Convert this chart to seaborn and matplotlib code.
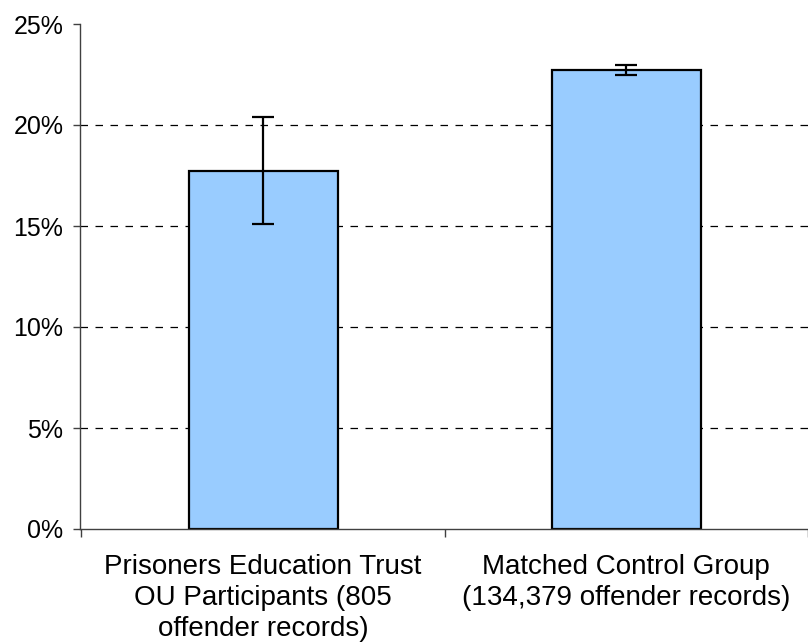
import matplotlib
matplotlib.use("Agg")
import matplotlib.pyplot as plt
import seaborn as sns
import pandas as pd

# Data
categories = ["Prisoners Education Trust\nOU Participants (805\noffender records)",
              "Matched Control Group\n(134,379 offender records)"]
rates = [17.74, 22.72]
err = [2.65, 0.25]
y_ticks = [0, 5, 10, 15, 20, 25]

sns.set_style("white")
plt.rcParams['font.family'] = ['Liberation Sans', 'DejaVu Sans']

df = pd.DataFrame({"group": categories, "rate": rates})

fig = plt.figure(figsize=(8.08, 6.44), dpi=100)
ax = fig.add_axes([80 / 808, 115 / 644, 728 / 808, 505 / 644])

sns.barplot(data=df, x="group", y="rate", ax=ax, color="#99CCFF",
            width=0.41, edgecolor="black", linewidth=1.6, saturation=1)
ax.errorbar(range(len(rates)), rates, yerr=err, fmt="none", ecolor="black",
            elinewidth=1.6, capsize=8, capthick=1.6, zorder=5)

for y in y_ticks[1:-1]:
    ax.axhline(y, color="black", linestyle=(0, (6, 6)), linewidth=0.9, zorder=0)

ax.set_ylim(0, 25)
x0 = -0.5 - 1.5 / 367
ax.set_xlim(x0, x0 + 728 / 367)
ax.set_yticks(y_ticks)
ax.set_yticklabels([f"{v}%" for v in y_ticks], fontsize=18, color="black")

ax.set_xticks([-0.5, 0.5, 1.5])
ax.set_xticklabels([])
ax.set_xticks([0, 1], minor=True)
ax.set_xticklabels(categories, minor=True, fontsize=20, linespacing=1.26, color="black")
ax.tick_params(axis="x", which="minor", bottom=False, length=0, pad=18)
ax.tick_params(axis="x", which="major", bottom=True, length=6, width=1,
               color="#404040", direction="out")
ax.tick_params(axis="y", left=True, length=5, width=1, color="#404040",
               direction="out", pad=7)
ax.set_xlabel("")
ax.set_ylabel("")

for s in ["top", "right"]:
    ax.spines[s].set_visible(False)
for s in ["left", "bottom"]:
    ax.spines[s].set_color("#404040")
    ax.spines[s].set_linewidth(1)

fig.savefig("out.png", dpi=100)
